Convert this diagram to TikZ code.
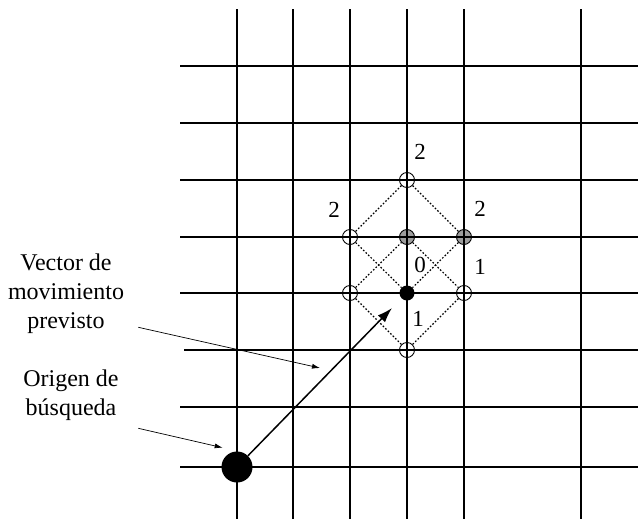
\documentclass[tikz,border=0pt]{standalone}
\usepackage{fontspec}
\setmainfont{Liberation Serif}
\usetikzlibrary{arrows.meta}
\begin{document}
\begin{tikzpicture}[x=1pt,y=-1pt,
  gridline/.style={line width=1.8pt},
  opencirc/.style={circle,draw,line width=0.9pt,minimum size=15pt,inner sep=0pt},
  graycirc/.style={opencirc,fill=black!38},
  blackcirc/.style={circle,fill=black,minimum size=15pt,inner sep=0pt},
  bigdot/.style={circle,fill=black,minimum size=31pt,inner sep=0pt},
  dotline/.style={line width=1.2pt,dash pattern=on 1.6pt off 1.9pt},
  lbl/.style={font=\fontsize{23}{26}\selectfont,inner sep=0pt},
  note/.style={font=\fontsize{24}{28.7}\selectfont,align=center,inner sep=0pt},
  thinarrow/.style={-{Latex[length=8pt,width=5pt]},line width=0.7pt},
  mainarrow/.style={-{Latex[length=15pt,width=10pt]},line width=1.5pt}
]
\useasboundingbox (0,0) rectangle (638,520);

% search points (fills under the grid)
\node[opencirc]  (T)  at (407,180) {};
\node[opencirc]  (L2) at (350,237) {};
\node[graycirc]  (CG) at (407,237) {};
\node[graycirc]  (R2) at (464,237) {};
\node[opencirc]  (LB) at (350,293) {};
\node[opencirc]  (RB) at (464,293) {};
\node[opencirc]  (B)  at (407,350) {};

% grid
\foreach \y/\xs in {66/180,123/180,180/180,237/180,293/180,350/184,407/180,467/180}
  \draw[gridline] (\xs,\y) -- (638,\y);
\foreach \x in {237,293,350,407,464,581}
  \draw[gridline] (\x,9) -- (\x,519);

% centre and origin
\node[blackcirc] (C) at (407,293) {};
\node[bigdot] (O) at (237,467) {};

% dotted search pattern
\draw[dotline] (T) -- (L2);
\draw[dotline] (T) -- (R2);
\draw[dotline] (L2) -- (C);
\draw[dotline] (R2) -- (C);
\draw[dotline] (LB) -- (CG);
\draw[dotline] (CG) -- (RB);
\draw[dotline] (LB) -- (B);
\draw[dotline] (RB) -- (B);

% step labels
\node[lbl] (n2t) at (420,152) {2};
\node[lbl] (n2l) at (334,210) {2};
\node[lbl] (n2r) at (480,209) {2};
\node[lbl] (n0)  at (420,265) {0};
\node[lbl] (n1r) at (480,267) {1};
\node[lbl] (n1b) at (418,319) {1};

% predicted motion vector
\coordinate (vtip) at (392,308);
\draw[mainarrow] (O) -- (vtip);

% annotations (base anchor = baseline of the last line)
\node[note,anchor=base] (vec) at (66,328.1) {Vector de\\movimiento\\previsto};
\node[note,anchor=base] (ori) at (71,415.5) {Origen de\\búsqueda};
\coordinate (vecS) at (138.3,327.3);
\coordinate (vecE) at (320,368);
\coordinate (oriS) at (138.3,428.3);
\coordinate (oriE) at (222.7,447.7);
\draw[thinarrow] (vecS) -- (vecE);
\draw[thinarrow] (oriS) -- (oriE);
\end{tikzpicture}
\end{document}
